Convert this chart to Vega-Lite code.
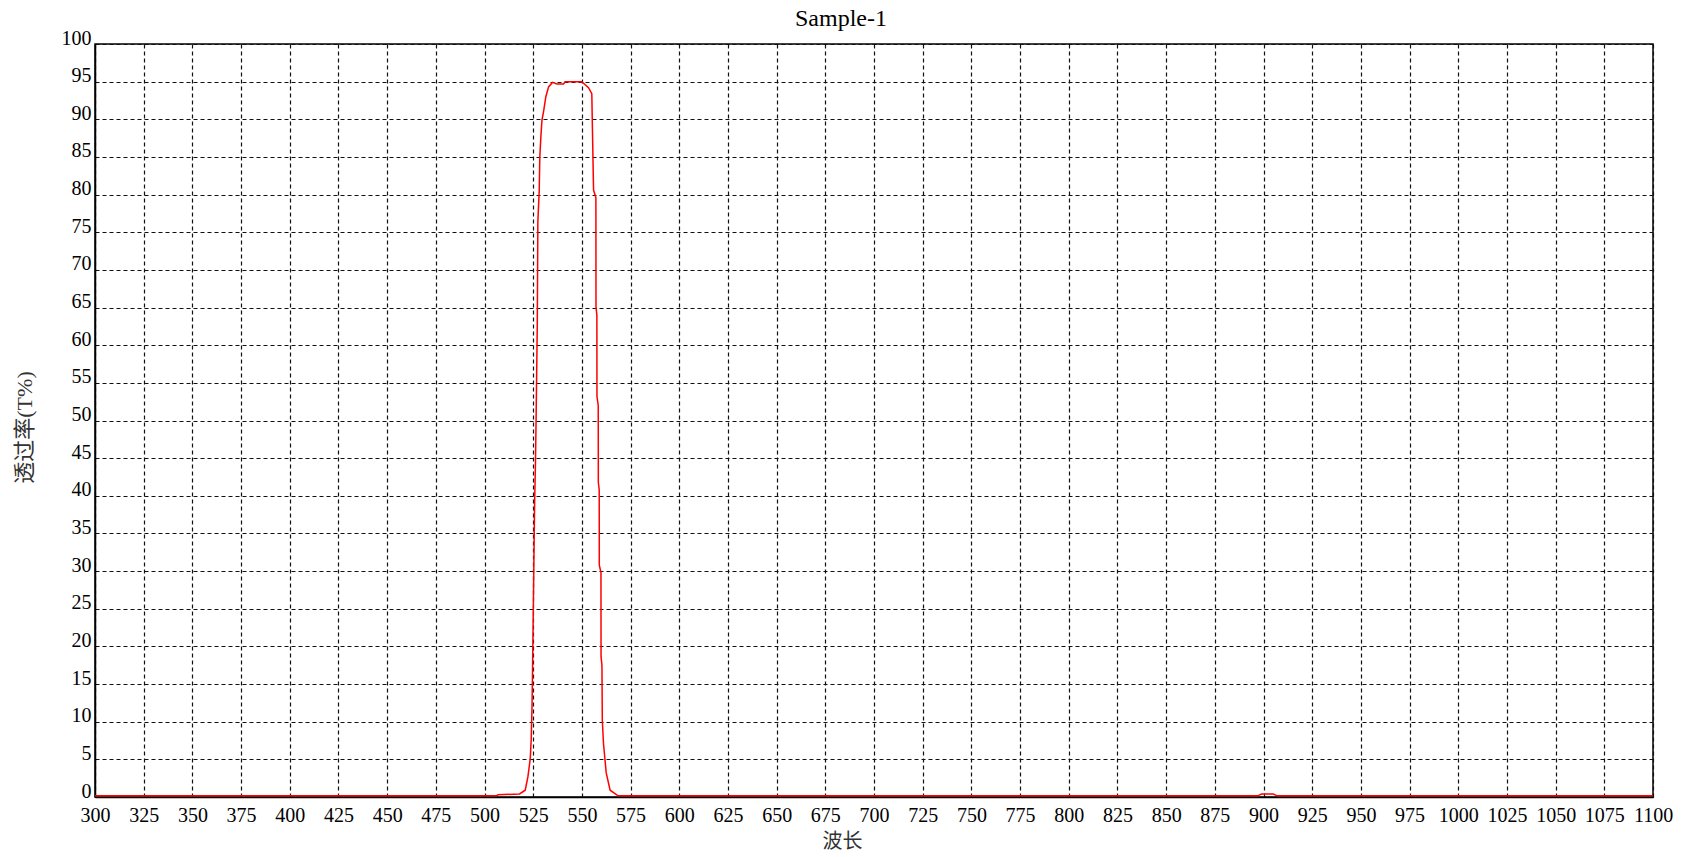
{
  "$schema": "https://vega.github.io/schema/vega-lite/v6.json",
  "autosize": {"type": "none"},
  "padding": {"left": 95, "top": 44, "right": 43, "bottom": 60},
  "width": 1558,
  "height": 753,
  "background": "white",
  "title": {"text": "Sample-1", "font": "Liberation Serif", "fontSize": 24, "fontWeight": "normal", "color": "black", "baseline": "alphabetic", "offset": -22, "dx": -33, "anchor": "middle"},
  "view": {"stroke": "black", "strokeWidth": 1.5},
  "data": {"values": [
    {"wl": 300, "T": 0.15}, {"wl": 400, "T": 0.15}, {"wl": 500, "T": 0.15}, {"wl": 506, "T": 0.15},
    {"wl": 507, "T": 0.3}, {"wl": 518, "T": 0.4}, {"wl": 520.9, "T": 0.9}, {"wl": 522.3, "T": 2.7},
    {"wl": 523.5, "T": 5.1}, {"wl": 524, "T": 7.8}, {"wl": 524.4, "T": 12}, {"wl": 524.6, "T": 15.5},
    {"wl": 525.2, "T": 27.8}, {"wl": 525.7, "T": 38.5}, {"wl": 526.2, "T": 44.8}, {"wl": 526.5, "T": 50.3},
    {"wl": 527.1, "T": 62.7}, {"wl": 527.4, "T": 76.4}, {"wl": 528.1, "T": 80.5}, {"wl": 528.4, "T": 85},
    {"wl": 528.95, "T": 87.7}, {"wl": 529.5, "T": 89.9}, {"wl": 530.3, "T": 91}, {"wl": 531.5, "T": 93},
    {"wl": 532.9, "T": 94.3}, {"wl": 534.9, "T": 94.9}, {"wl": 537.2, "T": 94.7}, {"wl": 540.6, "T": 94.7},
    {"wl": 541.4, "T": 95}, {"wl": 550, "T": 95}, {"wl": 553.4, "T": 94.2}, {"wl": 555.1, "T": 93.4},
    {"wl": 555.4, "T": 89}, {"wl": 556, "T": 80.6}, {"wl": 557.2, "T": 79.6}, {"wl": 557.25, "T": 65.1},
    {"wl": 557.7, "T": 64}, {"wl": 557.75, "T": 53.2}, {"wl": 558.4, "T": 52}, {"wl": 558.45, "T": 41.8},
    {"wl": 558.9, "T": 40.8}, {"wl": 558.95, "T": 30.8}, {"wl": 559.8, "T": 29.8}, {"wl": 559.85, "T": 18.6},
    {"wl": 560.3, "T": 17.5}, {"wl": 560.5, "T": 10.2}, {"wl": 561.1, "T": 7.1}, {"wl": 562.5, "T": 3.2},
    {"wl": 564.5, "T": 0.9}, {"wl": 568.6, "T": 0.15}, {"wl": 700, "T": 0.15}, {"wl": 897, "T": 0.15},
    {"wl": 899, "T": 0.4}, {"wl": 905, "T": 0.4}, {"wl": 907, "T": 0.15}, {"wl": 1000, "T": 0.15},
    {"wl": 1100, "T": 0.15}
  ]},
  "mark": {"type": "line", "color": "#ff0000", "strokeWidth": 1.5, "clip": true},
  "encoding": {
    "x": {
      "field": "wl", "type": "quantitative",
      "scale": {"domain": [300, 1100], "nice": false, "zero": false},
      "axis": {
        "title": "波长", "values": [300,325,350,375,400,425,450,475,500,525,550,575,600,625,650,675,700,725,750,775,800,825,850,875,900,925,950,975,1000,1025,1050,1075,1100],
        "format": "d", "labelFont": "Liberation Serif", "labelFontSize": 20, "labelColor": "black",
        "labelPadding": 8, "ticks": false, "domain": true, "domainColor": "black", "domainWidth": 1.5,
        "labelOverlap": false, "labelFlush": false, "labelBound": false,
        "grid": true, "gridColor": "#111", "gridDash": [4, 3], "gridWidth": 1.2, "gridOpacity": 1,
        "titleFont": "Noto Sans CJK SC", "titleFontSize": 20, "titleFontWeight": "normal", "titleColor": "#333",
        "titleX": 747, "titleY": 44, "titleBaseline": "middle", "titleAnchor": "middle"
      }
    },
    "y": {
      "field": "T", "type": "quantitative",
      "scale": {"domain": [0, 100], "nice": false},
      "axis": {
        "title": "透过率(T%)", "values": [0,5,10,15,20,25,30,35,40,45,50,55,60,65,70,75,80,85,90,95,100],
        "format": "d", "labelFont": "Liberation Serif", "labelFontSize": 20, "labelColor": "black",
        "labelPadding": 4, "labelBaseline": "alphabetic", "ticks": false, "domain": true, "domainColor": "black", "domainWidth": 1.5,
        "labelOverlap": false, "labelFlush": false, "labelBound": false,
        "grid": true, "gridColor": "#111", "gridDash": [4, 3], "gridWidth": 1.2, "gridOpacity": 1,
        "titleFont": "Liberation Serif, Noto Sans CJK SC", "titleFontSize": 22, "titleFontWeight": "normal", "titleColor": "#333",
        "titleAngle": 270, "titleX": -71, "titleY": 383, "titleBaseline": "middle", "titleAnchor": "middle"
      }
    }
  }
}
